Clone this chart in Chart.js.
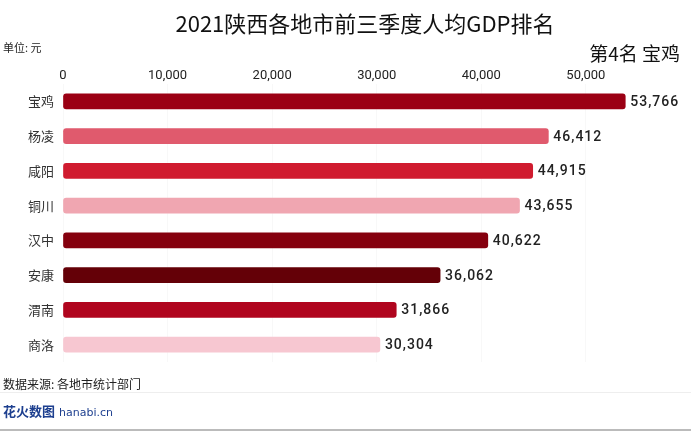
<!DOCTYPE html>
<html>
<head>
<meta charset="utf-8">
<script src="https://cdn.jsdelivr.net/npm/chart.js@4"></script>
<style>
  body { margin: 0; background: #fff; font-family: "Noto Sans CJK SC", "Noto Sans", sans-serif; }
  #wrap { position: relative; width: 691px; height: 431px; overflow: hidden; }
  #chart { position: absolute; left: 0; top: 0; }
  .t { position: absolute; white-space: nowrap; color: #222; }
  #title { left: 0; width: 730px; top: 6px; text-align: center; font-size: 22px; color: #111; }
  #unit { left: 3px; top: 39px; font-size: 11px; }
  #rank { right: 11px; top: 39px; font-size: 19px; color: #111; }
  #src { left: 3px; top: 375px; font-size: 12px; }
  #sep { position: absolute; left: 0; width: 691px; top: 392px; height: 1px; background: #eee; }
  #logo { left: 3px; top: 401px; font-size: 13px; font-weight: bold; color: #1d3f8f; }
  #logo span { font-weight: normal; font-family: "DejaVu Sans"; font-size: 11px; margin-left: 4px; }
  #bottom { position: absolute; left: 0; width: 691px; top: 429px; height: 2px; background: #bbb; }
</style>
</head>
<body>
<div id="wrap">
  <canvas id="chart" width="691" height="431"></canvas>
  <div class="t" id="title">2021陕西各地市前三季度人均GDP排名</div>
  <div class="t" id="unit">单位: 元</div>
  <div class="t" id="rank">第4名 宝鸡</div>
  <div class="t" id="src">数据来源: 各地市统计部门</div>
  <div id="sep"></div>
  <div class="t" id="logo">花火数图<span>hanabi.cn</span></div>
  <div id="bottom"></div>
</div>
<script>
var cities = ["宝鸡", "杨凌", "咸阳", "铜川", "汉中", "安康", "渭南", "商洛"];
var gdp = [53766, 46412, 44915, 43655, 40622, 36062, 31866, 30304];
var colors = ["#9b0014", "#e05a6d", "#d01b2f", "#f0a6b1", "#85000e", "#640007", "#b0051e", "#f7c7d1"];
var tickValues = [0, 10000, 20000, 30000, 40000, 50000];

var fmt = function(v){ return v.toLocaleString("en-US"); };

// value labels at the end of each bar
var valueLabels = {
  id: "valueLabels",
  afterDatasetsDraw: function(chart){
    var ctx = chart.ctx;
    var meta = chart.getDatasetMeta(0);
    ctx.save();
    ctx.font = "500 14px Roboto";
    ctx.letterSpacing = "1px";
    ctx.fillStyle = "#222";
    ctx.textBaseline = "middle";
    meta.data.forEach(function(bar, i){
      ctx.fillText(fmt(gdp[i]), bar.x + 5, bar.y + 1);
    });
    ctx.restore();
  }
};

var ctx = document.getElementById("chart").getContext("2d");
var myChart = new Chart(ctx, {
  type: "bar",
  data: {
    labels: cities,
    datasets: [{
      data: gdp,
      backgroundColor: colors,
      barThickness: 15,
      borderRadius: 3,
      borderSkipped: false
    }]
  },
  options: {
    indexAxis: "y",
    responsive: false,
    animation: false,
    layout: { padding: { top: 60, right: 11, bottom: 69, left: 0 } },
    plugins: { legend: { display: false }, tooltip: { enabled: false } },
    scales: {
      x: {
        position: "top",
        min: 0,
        max: 59000,
        afterBuildTicks: function(scale){
          scale.ticks = tickValues.map(function(v){ return { value: v }; });
        },
        afterFit: function(scale){ scale.height = 24; },
        border: { display: false },
        grid: { color: "#f8f8f8", drawTicks: false },
        ticks: {
          padding: 0,
          color: "#222",
          font: { size: 13, family: "Roboto" },
          callback: function(v){ return fmt(v); }
        }
      },
      y: {
        afterFit: function(scale){ scale.width = 63; },
        border: { display: false },
        grid: { display: false, drawTicks: false },
        ticks: {
          padding: 9,
          color: "#333",
          font: { size: 13, family: "Noto Sans CJK SC" }
        }
      }
    }
  },
  plugins: [valueLabels]
});
</script>
</body>
</html>
